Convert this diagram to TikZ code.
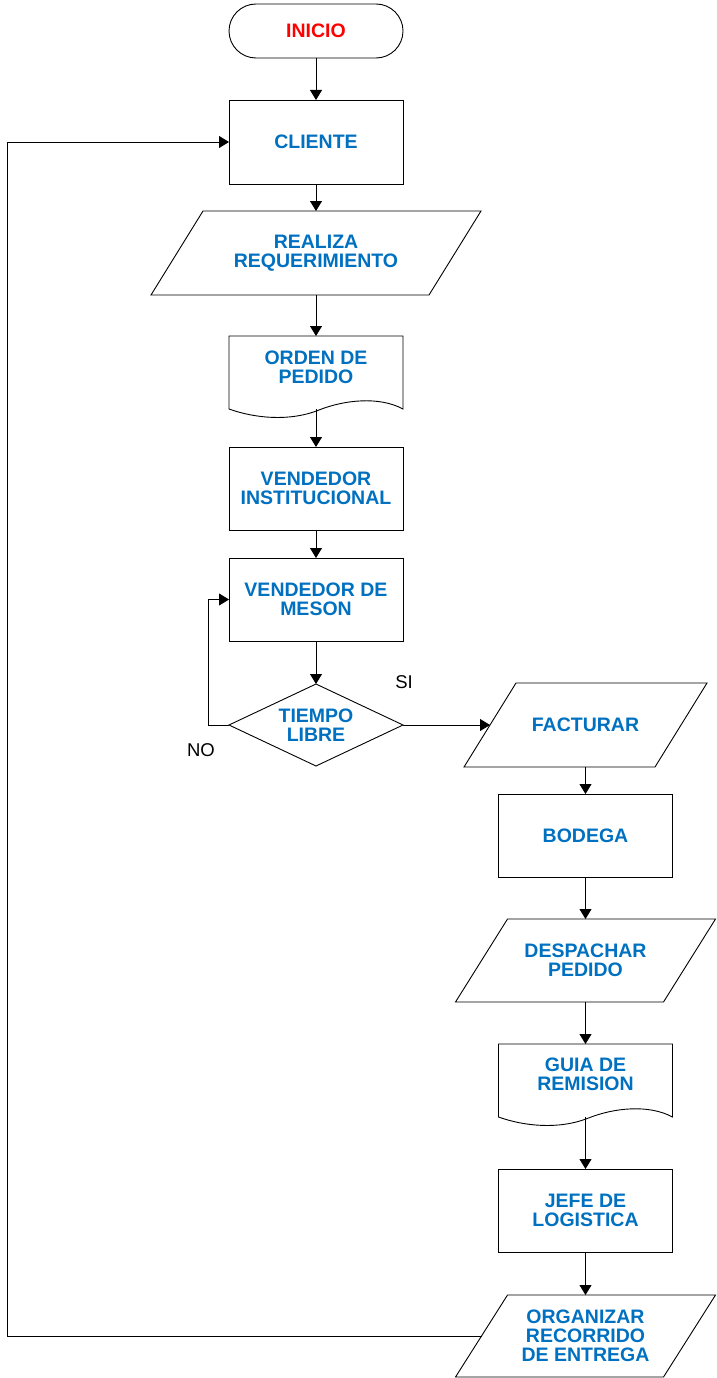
\documentclass[tikz,border=0pt]{standalone}
\usepackage{fontspec}
\setmainfont{Liberation Sans}
\usepackage{tikz}
\usetikzlibrary{arrows.meta,positioning,shapes.geometric}
\definecolor{FlujoAzul}{HTML}{0070C0}
\definecolor{FlujoRojo}{HTML}{FF0000}

\begin{document}
\begin{tikzpicture}[
  x=1pt,y=-1pt,
  every node/.style={font=\bfseries\fontsize{19.5}{19}\selectfont,
    text=FlujoAzul,align=center,outer sep=0pt},
  every path/.style={line width=0.9pt},
  terminal/.style={draw,rounded corners=27pt,minimum width=174pt,
    minimum height=54pt,text=FlujoRojo},
  proceso/.style={draw,minimum width=174pt,minimum height=83pt},
  datos/.style={minimum height=84pt},
  documento/.style={minimum width=174pt,minimum height=62pt},
  decision/.style={draw,diamond,aspect=2,inner sep=0pt,
    minimum width=174pt,minimum height=82pt},
  etiqueta/.style={font=\fontsize{18.5}{18.5}\selectfont,text=black},
  flecha/.style={-{Triangle[length=10pt,width=12pt]}}
]
\useasboundingbox (0,0) rectangle (716,1378);

% columna izquierda
\node[terminal] (inicio) at (316,31) {INICIO};
\node[proceso,below=42pt of inicio,minimum height=84pt] (cliente) {CLIENTE};
\node[datos,below=27pt of cliente,minimum width=278pt] (realiza)
  {REALIZA\\REQUERIMIENTO};
\node[documento,below=41pt of realiza] (orden) {ORDEN DE\\PEDIDO};
\coordinate (ordenfin) at ([yshift=-11pt]orden.south);
\node[proceso,below=49pt of orden] (vinst) {VENDEDOR\\INSTITUCIONAL};
\node[proceso,below=28pt of vinst] (vmeson) {VENDEDOR DE\\MESON};
\node[decision,below=43pt of vmeson] (tiempo) {TIEMPO\\LIBRE};

% columna derecha
\node[datos,right=87pt of tiempo,minimum width=191pt] (facturar) {FACTURAR};
\node[proceso,below=27pt of facturar] (bodega) {BODEGA};
\node[datos,below=42pt of bodega,minimum width=208pt,minimum height=83pt]
  (despachar) {DESPACHAR\\PEDIDO};
\node[documento,below=42pt of despachar,minimum height=60pt] (guia)
  {GUIA DE\\REMISION};
\coordinate (guiafin) at ([yshift=-13pt]guia.south);
\node[proceso,below=65pt of guia] (jefe) {JEFE DE\\LOGISTICA};
\node[datos,below=43pt of jefe,minimum width=208pt,minimum height=82pt]
  (organizar) {ORGANIZAR\\RECORRIDO\\DE ENTREGA};

\node[etiqueta] (si) at (404,682) {SI};
\node[etiqueta] (no) at (201,750) {NO};

% entradas/salidas
\foreach \n in {realiza,facturar,despachar,organizar}
  \draw ([xshift=26pt]\n.north west) -- ([xshift=26pt]\n.north east)
    -- ([xshift=-26pt]\n.south east) -- ([xshift=-26pt]\n.south west)
    -- cycle;

% documentos
\draw (orden.north west) -- ([yshift=-11pt]orden.south west)
  .. controls +(25,9) and +(-30,12) .. ++(90,1)
  .. controls +(25,-10) and +(-24,-13) .. ++(84,-1)
  -- (orden.north east) -- cycle;
\draw (guia.north west) -- ([yshift=-13pt]guia.south west)
  .. controls +(25,9) and +(-30,12) .. ++(90,1)
  .. controls +(25,-10) and +(-24,-13) .. ++(84,-1)
  -- (guia.north east) -- cycle;

\draw[flecha] (inicio) -- (cliente);
\draw[flecha] (cliente) -- (realiza);
\draw[flecha] (realiza) -- (orden);
\draw[flecha] (ordenfin) -- (vinst);
\draw[flecha] (vinst) -- (vmeson);
\draw[flecha] (vmeson) -- (tiempo);
\draw[flecha] (tiempo.west) -- ++(-21,0) |- (vmeson.west);
\draw[flecha] (tiempo.east) -- (facturar.west);
\draw[flecha] (facturar) -- (bodega);
\draw[flecha] (bodega) -- (despachar);
\draw[flecha] (despachar) -- (guia);
\draw[flecha] (guiafin) -- (jefe);
\draw[flecha] (jefe) -- (organizar);
\draw[flecha] (organizar.west) -- ++(-474.5,0) |- (cliente.west);
\end{tikzpicture}
\end{document}
